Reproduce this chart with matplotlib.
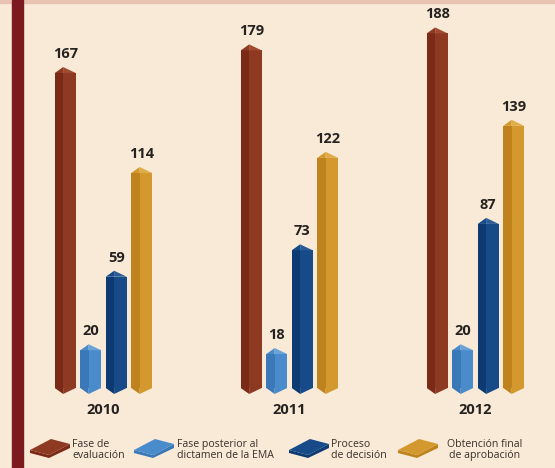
import numpy as np
import matplotlib.pyplot as plt
from matplotlib.patches import Polygon, Rectangle

# values
years = ['2010', '2011', '2012']
series = ['Fase de\nevaluación', 'Fase posterior al\ndictamen de la EMA',
          'Proceso\nde decisión', 'Obtención final\nde aprobación']
fase_evaluacion = [167, 179, 188]
fase_posterior = [20, 18, 20]
proceso_decision = [59, 73, 87]
obtencion_final = [114, 122, 139]

values = [fase_evaluacion, fase_posterior, proceso_decision, obtencion_final]
# (left face, right face, cap) shades
shades = [('#7a2a17', '#8e3a22', '#a04a2e'),
          ('#3a78b8', '#4a8bcb', '#6aa3d8'),
          ('#0d3a72', '#164a88', '#2a5c98'),
          ('#c0821c', '#d3982e', '#e0ac48')]

W, H = 555, 468
fig = plt.figure(figsize=(W / 100, H / 100), dpi=100)
fig.patch.set_facecolor('#f8ead7')
ax = fig.add_axes([0, 0, 1, 1])
ax.axis('off')

# pixel based scales: group pitch 186 px, 1.886 px per unit, zero at y=388
px_x = 1 / 186
px_y = 1 / 1.886
ax.set_xlim(-103.5 * px_x, (W - 103.5) * px_x)
ax.set_ylim(-(H - 388) * px_y, 388 * px_y)

# decorations
fig.patches.append(Rectangle((0, 1 - 3 / H), 1, 3 / H, transform=fig.transFigure,
                             color='#e9c2b2', zorder=0))
fig.patches.append(Rectangle((12 / W, 0), 11 / W, 1, transform=fig.transFigure,
                             color='#7b1a1f', zorder=1))

w = 21 * px_x
pitch = 25.5 * px_x
cap = 6 * px_y
tip = 6 * px_y
split = 0.4  # fraction of bar width taken by the left face
xg = np.arange(len(years))

for k, (vals, (c_l, c_r, c_t)) in enumerate(zip(values, shades)):
    xs = xg + (k - 1.5) * pitch
    left = xs - w / 2
    ridge = left + split * w
    ax.bar(left, vals, width=split * w, align='edge', color=c_l, zorder=2)
    ax.bar(ridge, vals, width=(1 - split) * w, align='edge', color=c_r, zorder=2)
    for x0, xr, v in zip(left, ridge, vals):
        x1 = x0 + w
        ax.add_patch(Polygon([(x0, v), (xr, v + cap), (xr, v)], color=c_r, lw=0, zorder=3))
        ax.add_patch(Polygon([(xr, v), (xr, v + cap), (x1, v)], color=c_t, lw=0, zorder=3))
        ax.add_patch(Polygon([(x0, 0), (xr, -tip), (xr, 0)], color=c_l, lw=0, zorder=3))
        ax.add_patch(Polygon([(xr, 0), (xr, -tip), (x1, 0)], color=c_r, lw=0, zorder=3))
        ax.text(x0 + w / 2, v + 19 * px_y, str(v), ha='center', va='center',
                fontsize=10.5, fontweight='bold', family='Open Sans', color='#262220')

for x, yr in zip(xg, years):
    ax.text(x, -22 * px_y, yr, ha='center', va='center', fontsize=10.5,
            fontweight='bold', family='Open Sans', color='#262220')

# legend with slab swatches
sw_x = [50, 154, 309, 418]
tx_x = [72, 177, 331, 522]
aligns = ['left', 'left', 'left', 'right']
ly = 447
for name, (c_l, c_r, c_t), sx, tx, al in zip(series, shades, sw_x, tx_x, aligns):
    top = [(sx - 20, ly + 3), (sx + 1, ly - 8), (sx + 20, ly - 3), (sx - 1, ly + 8)]
    side = [(sx - 20, ly + 3), (sx - 1, ly + 8), (sx + 20, ly - 3),
            (sx + 20, ly + 1), (sx - 1, ly + 11), (sx - 20, ly + 6)]
    for pts, col in ((side, c_l), (top, c_r)):
        fig.patches.append(Polygon([(px / W, 1 - py / H) for px, py in pts],
                                   transform=fig.transFigure, color=col, lw=0))
    fig.text(tx / W, 1 - (ly + 3) / H, name, ha=al, va='center',
             multialignment='center' if al == 'right' else 'left',
             fontsize=7.6, family='Open Sans', color='#3a302c', linespacing=1.0)

fig.savefig('out.png', dpi=100, facecolor=fig.get_facecolor())
